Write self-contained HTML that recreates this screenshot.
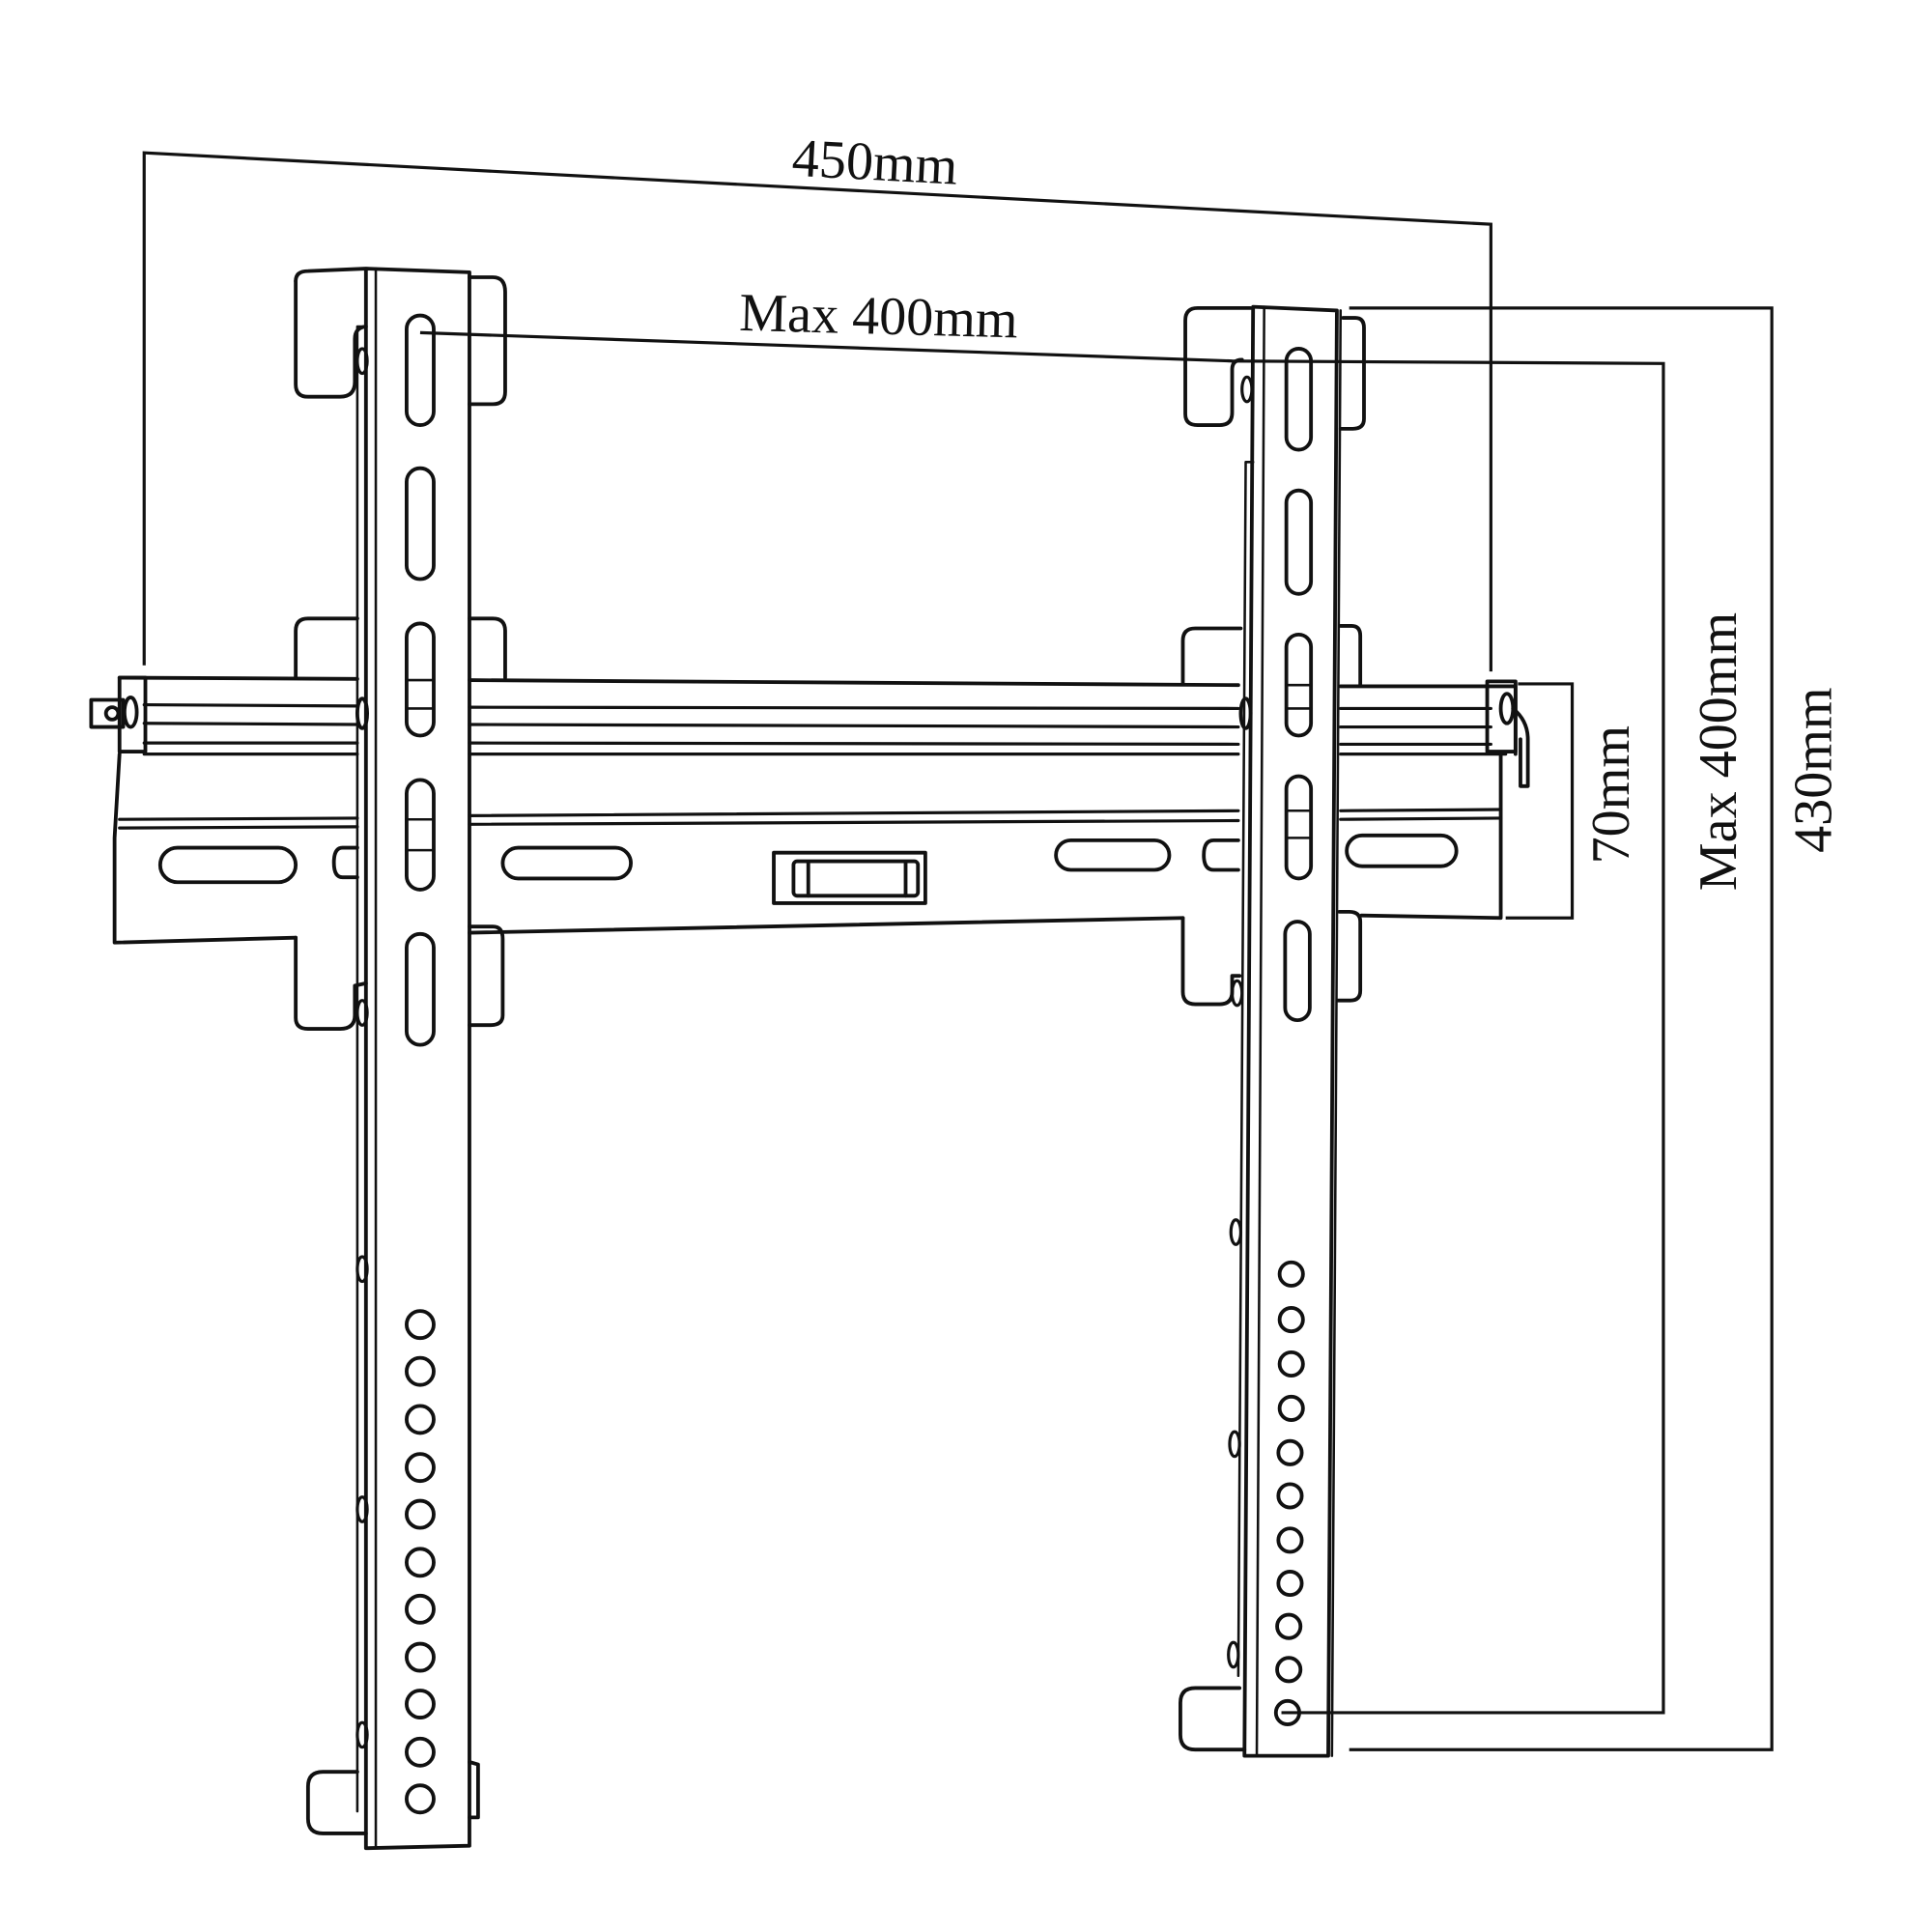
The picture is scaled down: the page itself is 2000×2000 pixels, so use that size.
<!DOCTYPE html>
<html><head><style>html,body{margin:0;padding:0;background:#fff}svg{display:block}</style></head>
<body>
<svg width="2000" height="2000" viewBox="0 0 1568 1568" xmlns="http://www.w3.org/2000/svg">
<g fill="none" stroke="#111" stroke-width="3" stroke-linejoin="round" stroke-linecap="round">
<path d="M97,550 L290,551 M381,552 L1005,556 M1088,557 L1230,557 L1230,612"/>
<path d="M117,572 L290,573 M381,574 L1005,575 M1088,575 L1210,575" stroke-width="2.5"/>
<path d="M117,587 L290,588 M381,588 L1005,590 M1088,590 L1210,590" stroke-width="2.5"/>
<path d="M117,603 L290,603 M381,603 L1005,604 M1088,604 L1210,604" stroke-width="2.5"/>
<path d="M117,612 L290,612 M381,612 L1005,612 M1088,612 L1222,612" stroke-width="2.5"/>
<path d="M97,612 L93,680 L93,765 L240,761 M381,757 L960,745 M1105,743 L1218,745 L1218,612"/>
<path d="M97,665 L290,664 M381,662 L1005,658 M1088,658 L1218,657" stroke-width="2.5"/>
<path d="M97,672 L290,671 M381,669 L1005,666 M1088,665 L1218,664" stroke-width="2.5"/>
<rect x="130" y="688" width="110" height="28" rx="14"/>
<rect x="408" y="688" width="104" height="25" rx="12.5"/>
<rect x="857" y="682" width="92" height="24" rx="12"/>
<rect x="1093" y="678" width="89" height="25" rx="12.5"/>
<path d="M290,688 L278,688 Q271,688 271,700 Q271,712 278,712 L290,712"/>
<path d="M1005,682 L985,682 Q977,682 977,694 Q977,706 985,706 L1005,706"/>
<rect x="628" y="692" width="123" height="41"/>
<rect x="644" y="699" width="101" height="28" rx="3"/>
<path d="M656,700 L656,727 M735,700 L735,727"/>
<rect x="97" y="550" width="21" height="60"/>
<ellipse cx="106" cy="578" rx="5" ry="12"/>
<rect x="74" y="568" width="26" height="22"/>
<circle cx="91" cy="579" r="5"/>
<ellipse cx="294" cy="579" rx="4" ry="12"/>
<ellipse cx="1011" cy="579" rx="4" ry="12"/>
<rect x="1207" y="553" width="23" height="57"/>
<ellipse cx="1223" cy="575" rx="5" ry="12"/>
<path d="M1228,575 Q1240,585 1240,600 L1240,638 L1234,638 L1234,600"/>
<path d="M240,228 Q240,220 250,220 L297,218 L381,221 M381,221 L381,1498 L297,1500 L297,218"/>
<path d="M305,218 L305,1500" stroke-width="2"/>
<path d="M297,265 L290,265 L290,1470" stroke-width="2"/>
<path d="M297,265 Q288,266 288,275 L288,310 Q288,322 276,322 L250,322 Q240,322 240,312 L240,228"/>
<path d="M381,225 L400,225 Q410,225 410,237 L410,318 Q410,328 400,328 L381,328"/>
<path d="M290,502 L250,502 Q240,502 240,512 L240,550 M381,502 L400,502 Q410,502 410,512 L410,550"/>
<path d="M240,761 L240,826 Q240,835 250,835 L276,835 Q288,835 288,824 L288,800 L297,798 M381,752 L400,752 Q408,752 408,762 L408,824 Q408,832 398,832 L381,832"/>
<path d="M290,1438 L262,1438 Q250,1438 250,1450 L250,1476 Q250,1488 262,1488 L297,1488 M381,1430 L388,1432 L388,1475 L381,1475"/>
<g stroke-width="2.5">
<ellipse cx="294" cy="293" rx="4" ry="10"/><ellipse cx="294" cy="822" rx="4" ry="10"/>
<ellipse cx="294" cy="1030" rx="4" ry="10"/><ellipse cx="294" cy="1225" rx="4" ry="10"/><ellipse cx="294" cy="1408" rx="4" ry="10"/>
</g>
<g>
<rect x="330" y="256" width="22" height="89" rx="11"/>
<rect x="330" y="380" width="22" height="90" rx="11"/>
<rect x="330" y="506" width="22" height="91" rx="11"/>
<rect x="330" y="633" width="22" height="89" rx="11"/>
<rect x="330" y="758" width="22" height="90" rx="11"/>
<path d="M330,552 L352,552 M330,575 L352,575 M330,665 L352,665 M330,690 L352,690" stroke-width="2"/>
</g>
<g>
<circle cx="341" cy="1075" r="11"/><circle cx="341" cy="1113" r="11"/><circle cx="341" cy="1152" r="11"/>
<circle cx="341" cy="1191" r="11"/><circle cx="341" cy="1229" r="11"/><circle cx="341" cy="1268" r="11"/>
<circle cx="341" cy="1306" r="11"/><circle cx="341" cy="1345" r="11"/><circle cx="341" cy="1383" r="11"/>
<circle cx="341" cy="1422" r="11"/><circle cx="341" cy="1460" r="11"/>
</g>
<path d="M1017,249 L1085,252 L1078,1425 L1010,1425 Z"/>
<path d="M1026,249 L1020,1425" stroke-width="2"/>
<path d="M1088,252 L1081,1425" stroke-width="2"/>
<path d="M1017,375 L1011,375 L1005,1360" stroke-width="2"/>
<path d="M1015,250 L972,250 Q962,250 962,260 L962,336 Q962,345 972,345 L990,345 Q1000,345 1000,335 L1000,300 Q1000,292 1008,292"/>
<path d="M1090,258 L1100,258 Q1107,258 1107,266 L1107,340 Q1107,348 1098,348 L1088,348"/>
<path d="M1007,510 L970,510 Q960,510 960,520 L960,555 M1088,508 L1097,508 Q1104,508 1104,516 L1104,556"/>
<path d="M960,745 L960,805 Q960,815 970,815 L990,815 Q1000,815 1000,805 L1000,792 L1006,792 M1087,740 L1095,740 Q1104,740 1104,748 L1104,804 Q1104,812 1096,812 L1086,812"/>
<path d="M1006,1370 L970,1370 Q958,1370 958,1382 L958,1408 Q958,1420 970,1420 L1010,1420"/>
<g stroke-width="2.5">
<ellipse cx="1012" cy="316" rx="4" ry="10"/><ellipse cx="1004" cy="806" rx="4" ry="10"/>
<ellipse cx="1003" cy="1000" rx="4" ry="10"/><ellipse cx="1002" cy="1172" rx="4" ry="10"/><ellipse cx="1001" cy="1343" rx="4" ry="10"/>
</g>
<rect x="1044" y="283" width="20" height="82" rx="10"/>
<rect x="1044" y="398" width="20" height="84" rx="10"/>
<rect x="1044" y="515" width="20" height="82" rx="10"/>
<rect x="1044" y="630" width="20" height="83" rx="10"/>
<rect x="1043" y="748" width="20" height="80" rx="10"/>
<path d="M1044,556 L1064,556 M1044,575 L1064,575 M1044,658 L1064,658 M1044,680 L1064,680" stroke-width="2"/>
<circle cx="1048" cy="1034" r="9.5"/><circle cx="1048" cy="1071" r="9.5"/><circle cx="1048" cy="1107" r="9.5"/>
<circle cx="1048" cy="1143" r="9.5"/><circle cx="1047" cy="1179" r="9.5"/><circle cx="1047" cy="1214" r="9.5"/>
<circle cx="1047" cy="1250" r="9.5"/><circle cx="1047" cy="1285" r="9.5"/><circle cx="1046" cy="1320" r="9.5"/>
<circle cx="1046" cy="1355" r="9.5"/><circle cx="1045" cy="1390" r="9.5"/>
</g>
<g fill="none" stroke="#111" stroke-width="2.5">
<path d="M117,540 L117,124 L1210,182 L1210,545"/>
<path d="M341,270 L1000,293 L1350,295 L1350,1390 L1040,1390"/>
<path d="M1095,250 L1438,250 L1438,1420 L1095,1420"/>
<path d="M1232,555 L1276,555 L1276,745 L1222,745"/>
</g>
<g font-family="Liberation Serif, serif" font-size="44" fill="#111" text-anchor="middle">
<text x="710" y="146" transform="rotate(3 710 133)">450mm</text>
<text x="713" y="271" transform="rotate(1.5 713 258)">Max 400mm</text>
<text transform="translate(1322,645) rotate(-90)">70mm</text>
<text transform="translate(1409,610) rotate(-90)">Max 400mm</text>
<text transform="translate(1486,625) rotate(-90)">430mm</text>
</g>
</svg>
</body></html>
